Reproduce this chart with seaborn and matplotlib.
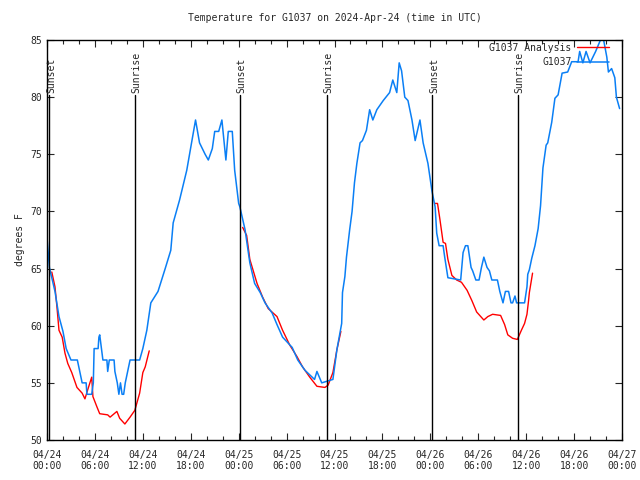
import pandas as pd
import numpy as np
import matplotlib
matplotlib.use("Agg")
import matplotlib.pyplot as plt
import seaborn as sns

# observed temperature (G1037), hours since 04/24 00:00 UTC
obs_hours = [0.0, 0.3, 1.0, 1.5, 2.0, 2.4, 3.0, 3.8, 4.1, 4.4, 4.9, 5.0, 5.6, 5.8, 5.9,
             6.4, 6.5, 6.6, 7.0, 7.5, 7.6, 7.8, 8.4, 8.5, 8.8, 9.0, 9.2, 9.4, 9.6, 9.8,
             10.1, 10.4, 11.0, 11.6, 12.0, 12.5, 13.0, 13.9, 14.8, 15.5, 15.8, 16.6, 17.5,
             18.0, 18.6, 19.1, 19.8, 20.2, 20.7, 21.0, 21.5, 21.9, 22.4, 22.7, 23.2, 23.5,
             24.0, 24.15, 24.8, 25.4, 26.0, 26.7, 27.3, 28.2, 28.8, 29.5, 30.7, 31.4, 32.3,
             33.5, 33.8, 34.4, 35.8, 36.3, 36.9, 37.0, 37.3, 37.5, 37.9, 38.2, 38.5, 38.8,
             39.2, 39.5, 40.0, 40.4, 40.8, 41.3, 42.1, 42.9, 43.3, 43.8, 44.1, 44.4, 44.8,
             45.2, 45.7, 46.1, 46.7, 47.1, 47.7, 48.2, 48.6, 48.8, 49.1, 49.6, 49.8, 50.2,
             51.8, 52.1, 52.4, 52.7, 53.1, 53.3, 53.7, 54.1, 54.4, 54.7, 55.1, 55.4, 55.7,
             56.4, 56.7, 57.1, 57.4, 57.8, 58.1, 58.3, 58.6, 58.8, 59.8, 60.1, 60.2, 60.4,
             60.7, 61.1, 61.5, 61.8, 62.1, 62.5, 62.7, 63.2, 63.6, 64.0, 64.5, 65.2, 65.7,
             66.5, 66.7, 67.1, 67.5, 68.0, 68.7, 69.3, 69.7, 70.1, 70.3, 70.7, 71.1, 71.3,
             71.7]
obs_temp = [67.7, 65.1, 63.0, 60.8, 59.5, 58.0, 57.0, 57.0, 56.0, 55.0, 55.0, 54.0, 54.0, 55.0, 58.0,
            58.0, 59.0, 59.2, 57.0, 57.0, 56.0, 57.0, 57.0, 56.0, 55.0, 54.0, 55.0, 54.0, 54.0, 55.0,
            56.0, 57.0, 57.0, 57.0, 58.0, 59.6, 62.0, 63.0, 65.0, 66.6, 69.0, 71.0, 73.6,
            75.6, 78.0, 76.0, 75.0, 74.5, 75.5, 77.0, 77.0, 78.0, 74.5, 77.0, 77.0, 73.6,
            70.7, 70.4, 68.4, 65.5, 63.7, 62.9, 62.0, 61.1, 60.1, 59.0, 58.1, 57.0, 56.1,
            55.3, 56.0, 55.0, 55.3, 57.9, 60.2, 62.9, 64.3, 66.0, 68.4, 70.0, 72.5, 74.2,
            76.0, 76.2, 77.1, 78.9, 78.0, 78.9, 79.7, 80.4, 81.5, 80.4, 83.0, 82.3, 80.0,
            79.7, 78.0, 76.2, 78.0, 76.0, 74.2, 71.8, 70.4, 68.1, 67.0, 67.0, 66.0, 64.2,
            64.0, 66.4, 67.0, 67.0, 65.1, 64.8, 64.0, 64.0, 65.1, 66.0, 65.1, 64.8, 64.0,
            64.0, 63.0, 62.0, 63.0, 63.0, 62.0, 62.0, 62.6, 62.0, 62.0, 63.4, 64.5, 64.9,
            65.9, 67.0, 68.5, 70.5, 73.8, 75.8, 76.0, 77.8, 79.9, 80.2, 82.1, 82.2, 83.1,
            83.1, 84.0, 83.0, 84.0, 83.0, 84.0, 85.0, 85.0, 83.5, 82.2, 82.5, 81.7, 80.0,
            79.0]

# analysis (red), three night segments
ana_seg = [1] * 27 + [2] * 18 + [3] * 26
ana_hours = [0.6, 1.0, 1.25, 1.5, 1.9, 2.25, 2.6, 3.1, 3.75, 4.4, 4.75, 5.1, 5.6, 5.75,
             6.25, 6.6, 7.6, 7.9, 8.75, 9.1, 9.75, 10.4, 11.0, 11.6, 12.0, 12.3, 12.8,
             24.5, 25.0, 25.4, 26.3, 27.0, 27.7, 28.8, 29.5, 30.4, 31.3, 32.0, 32.9, 33.8,
             34.8, 35.2, 35.8, 36.3, 36.8,
             48.6, 48.9, 49.2, 49.6, 49.9, 50.2, 50.7, 51.3, 51.9, 52.6, 53.2, 53.8, 54.7,
             55.2, 55.8, 56.8, 57.3, 57.7, 58.3, 58.9, 59.4, 59.8, 60.1, 60.3, 60.4, 60.8]
ana_temp = [64.7, 63.4, 61.6, 59.6, 59.0, 57.6, 56.7, 55.9, 54.6, 54.1, 53.6, 54.4, 55.5, 53.8,
            52.9, 52.3, 52.2, 52.0, 52.5, 51.9, 51.4, 52.0, 52.6, 54.1, 55.9, 56.4, 57.8,
            68.6, 67.9, 65.8, 63.7, 62.5, 61.5, 60.8, 59.6, 58.3, 57.3, 56.4, 55.5, 54.7,
            54.6, 54.8, 55.9, 57.9, 59.5,
            70.7, 70.7, 69.3, 67.3, 67.2, 65.8, 64.4, 64.0, 63.8, 63.1, 62.2, 61.2, 60.5,
            60.8, 61.0, 60.9, 60.1, 59.2, 58.9, 58.8, 59.6, 60.2, 61.0, 62.2, 62.9, 64.6]

sun_hours = [0.25, 11.0, 24.15, 35.0, 48.2, 58.95]
sun_labels = ["Sunset", "Sunrise", "Sunset", "Sunrise", "Sunset", "Sunrise"]

tick_hours = list(range(0, 73, 6))
tick_labels = ["04/24\n00:00", "04/24\n06:00", "04/24\n12:00", "04/24\n18:00",
               "04/25\n00:00", "04/25\n06:00", "04/25\n12:00", "04/25\n18:00",
               "04/26\n00:00", "04/26\n06:00", "04/26\n12:00", "04/26\n18:00",
               "04/27\n00:00"]

obs = pd.DataFrame({"hour": obs_hours, "temp": obs_temp})
ana = pd.DataFrame({"hour": ana_hours, "temp": ana_temp, "seg": ana_seg})

sns.set_style("ticks")
plt.rcParams["font.family"] = ["DejaVu Sans Mono"]

fig = plt.figure(figsize=(6.4, 4.8), dpi=100)
ax = fig.add_axes([47 / 640, 40 / 480, 575 / 640, 400 / 480])

blue = "#0a7ff5"
sns.lineplot(data=ana, x="hour", y="temp", units="seg", estimator=None,
             color="red", lw=1.0, ax=ax, legend=False)
sns.lineplot(data=obs, x="hour", y="temp", color=blue, lw=1.1, ax=ax, legend=False)

for h, lab in zip(sun_hours, sun_labels):
    ax.plot([h, h], [50, 80.2], color="black", lw=1.0)
    ax.text(h + 0.25, 80.4, lab, rotation=90, ha="center", va="bottom", fontsize=7)

ax.set_xlim(0, 72)
ax.set_ylim(50, 85)
ax.set_xticks(tick_hours)
ax.set_xticklabels(tick_labels)
ax.set_xticks(range(0, 73, 2), minor=True)
ax.set_yticks(range(50, 86, 5))
ax.tick_params(direction="in", top=True, right=True, labelsize=7, length=5, width=0.8)
ax.tick_params(axis="x", pad=7)
ax.tick_params(which="minor", direction="in", top=True, right=True, length=3, width=0.8)
for s in ax.spines.values():
    s.set_color("black")
    s.set_linewidth(1.0)

ax.set_xlabel("")
ax.set_ylabel("degrees F", fontsize=7)
ax.set_title("Temperature for G1037 on 2024-Apr-24 (time in UTC)", fontsize=7, pad=14)

handles = [plt.Line2D([], [], color="red", lw=1.0), plt.Line2D([], [], color=blue, lw=1.1)]
ax.legend(handles, ["G1037 Analysis", "G1037"], loc="upper right", markerfirst=False,
          frameon=False, fontsize=7, handlelength=3.2, handletextpad=0.6,
          labelspacing=0.45, borderaxespad=0.1, bbox_to_anchor=(0.985, 1.005))

plt.savefig("out.png", dpi=100)
plt.close()
